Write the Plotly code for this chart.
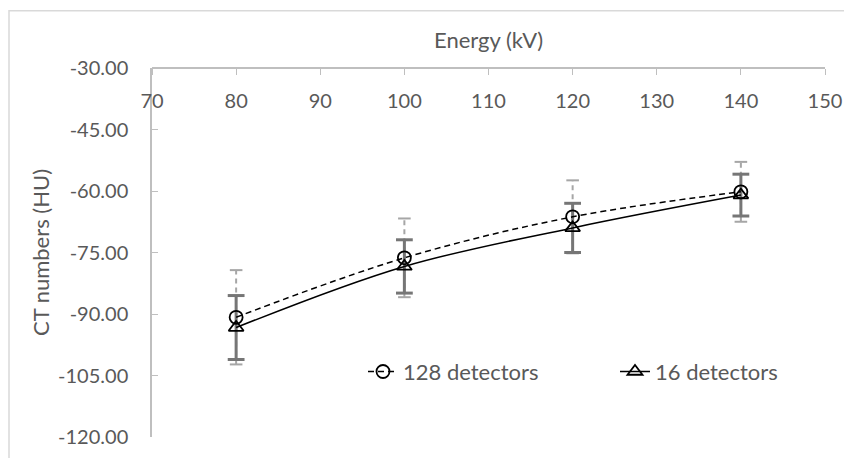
import plotly.graph_objects as go

energy = [80, 100, 120, 140]
ct_128 = [-90.8, -76.3, -66.3, -60.2]
err_128 = [11.5, 9.6, 8.9, 7.3]
ct_16 = [-93.3, -78.4, -69.0, -61.0]
err_16 = [7.8, 6.5, 6.0, 5.1]

x_ticks = [70, 80, 90, 100, 110, 120, 130, 140, 150]
y_ticks = [-30, -45, -60, -75, -90, -105, -120]

FONT = "Lato"
TXT = "#595959"
TICK_SIZE = 20
TEXT_SIZE = 22

fig = go.Figure()

def err_segments(xs, ys, es):
    sx, sy = [], []
    for x, y, e in zip(xs, ys, es):
        sx += [x, x, None]
        sy += [y - e, y + e, None]
    return sx, sy

def caps(xs, ys, es):
    cx, cy = [], []
    for x, y, e in zip(xs, ys, es):
        cx += [x, x]
        cy += [y - e, y + e]
    return cx, cy

# 128 detectors error bars (dashed, light gray)
sx, sy = err_segments(energy, ct_128, err_128)
fig.add_trace(go.Scatter(x=sx, y=sy, mode="lines", showlegend=False, hoverinfo="skip",
                         line=dict(color="#a6a6a6", width=2, dash="5px,4px")))
cx, cy = caps(energy, ct_128, err_128)
fig.add_trace(go.Scatter(x=cx, y=cy, mode="markers", showlegend=False, hoverinfo="skip",
                         marker=dict(symbol="line-ew", size=9, line=dict(color="#a6a6a6", width=2))))

# 16 detectors error bars (solid, darker gray)
sx, sy = err_segments(energy, ct_16, err_16)
fig.add_trace(go.Scatter(x=sx, y=sy, mode="lines", showlegend=False, hoverinfo="skip",
                         line=dict(color="#767676", width=3)))
cx, cy = caps(energy, ct_16, err_16)
fig.add_trace(go.Scatter(x=cx, y=cy, mode="markers", showlegend=False, hoverinfo="skip",
                         marker=dict(symbol="line-ew", size=12, line=dict(color="#767676", width=3))))

# Main series
fig.add_trace(go.Scatter(x=energy, y=ct_128, name="128 detectors", mode="lines+markers",
                         legend="legend",
                         line=dict(color="black", width=1.5, dash="6px,4px", shape="spline"),
                         marker=dict(symbol="circle", size=13, color="rgba(255,255,255,0)",
                                     line=dict(color="black", width=1.8))))
fig.add_trace(go.Scatter(x=energy, y=ct_16, name="16 detectors", mode="lines+markers",
                         legend="legend2",
                         line=dict(color="black", width=1.5, shape="spline"),
                         marker=dict(symbol="triangle-up", size=13, color="rgba(255,255,255,0)",
                                     line=dict(color="black", width=1.8))))

leg_common = dict(orientation="h", yanchor="middle", xanchor="left", y=0.177,
                  font=dict(family=FONT, size=TEXT_SIZE, color=TXT), bgcolor="rgba(0,0,0,0)")

fig.update_layout(
    width=844, height=450,
    margin=dict(l=144, r=27, t=60, b=21),
    paper_bgcolor="white", plot_bgcolor="white",
    font=dict(family=FONT, size=TEXT_SIZE, color=TXT),
    showlegend=True,
    legend=dict(x=(363 - 152) / 673, **leg_common),
    legend2=dict(x=(615 - 152) / 673, **leg_common),
    xaxis=dict(range=[70, 150], tickvals=x_ticks, ticktext=[str(v) for v in x_ticks],
               anchor="free", position=1, side="bottom", ticks="outside", ticklen=6,
               tickcolor="#bfbfbf", showline=True, linecolor="#bfbfbf", linewidth=1.5,
               showgrid=False, zeroline=False, automargin=False, ticklabelstandoff=9,
               tickfont=dict(family=FONT, size=TICK_SIZE, color=TXT)),
    yaxis=dict(range=[-120, -30], tickvals=y_ticks, ticktext=[f"{v:.2f}" for v in y_ticks],
               ticks="inside", ticklen=6, tickcolor="#bfbfbf", showline=True, linecolor="#bfbfbf",
               linewidth=1.5, showgrid=False, zeroline=False, ticklabelstandoff=18,
               automargin=False, tickfont=dict(family=FONT, size=TICK_SIZE, color=TXT),
               title=dict(text="CT numbers (HU)", standoff=2,
                          font=dict(family=FONT, size=TEXT_SIZE, color=TXT))),
)

fig.add_annotation(text="Energy (kV)", xref="paper", yref="paper", x=0.5, y=(437.3 - 40) / 369,
                   showarrow=False, xanchor="center", yanchor="middle",
                   font=dict(family=FONT, size=TEXT_SIZE, color=TXT))

# Outer chart border
fig.add_shape(type="rect", xref="paper", yref="paper",
              x0=(9 - 152) / 673, x1=1.08, y0=-0.2, y1=(437.3 - 11) / 369,
              line=dict(color="#d9d9d9", width=1.5), fillcolor="rgba(0,0,0,0)", layer="below")

fig.write_html("out.html")
